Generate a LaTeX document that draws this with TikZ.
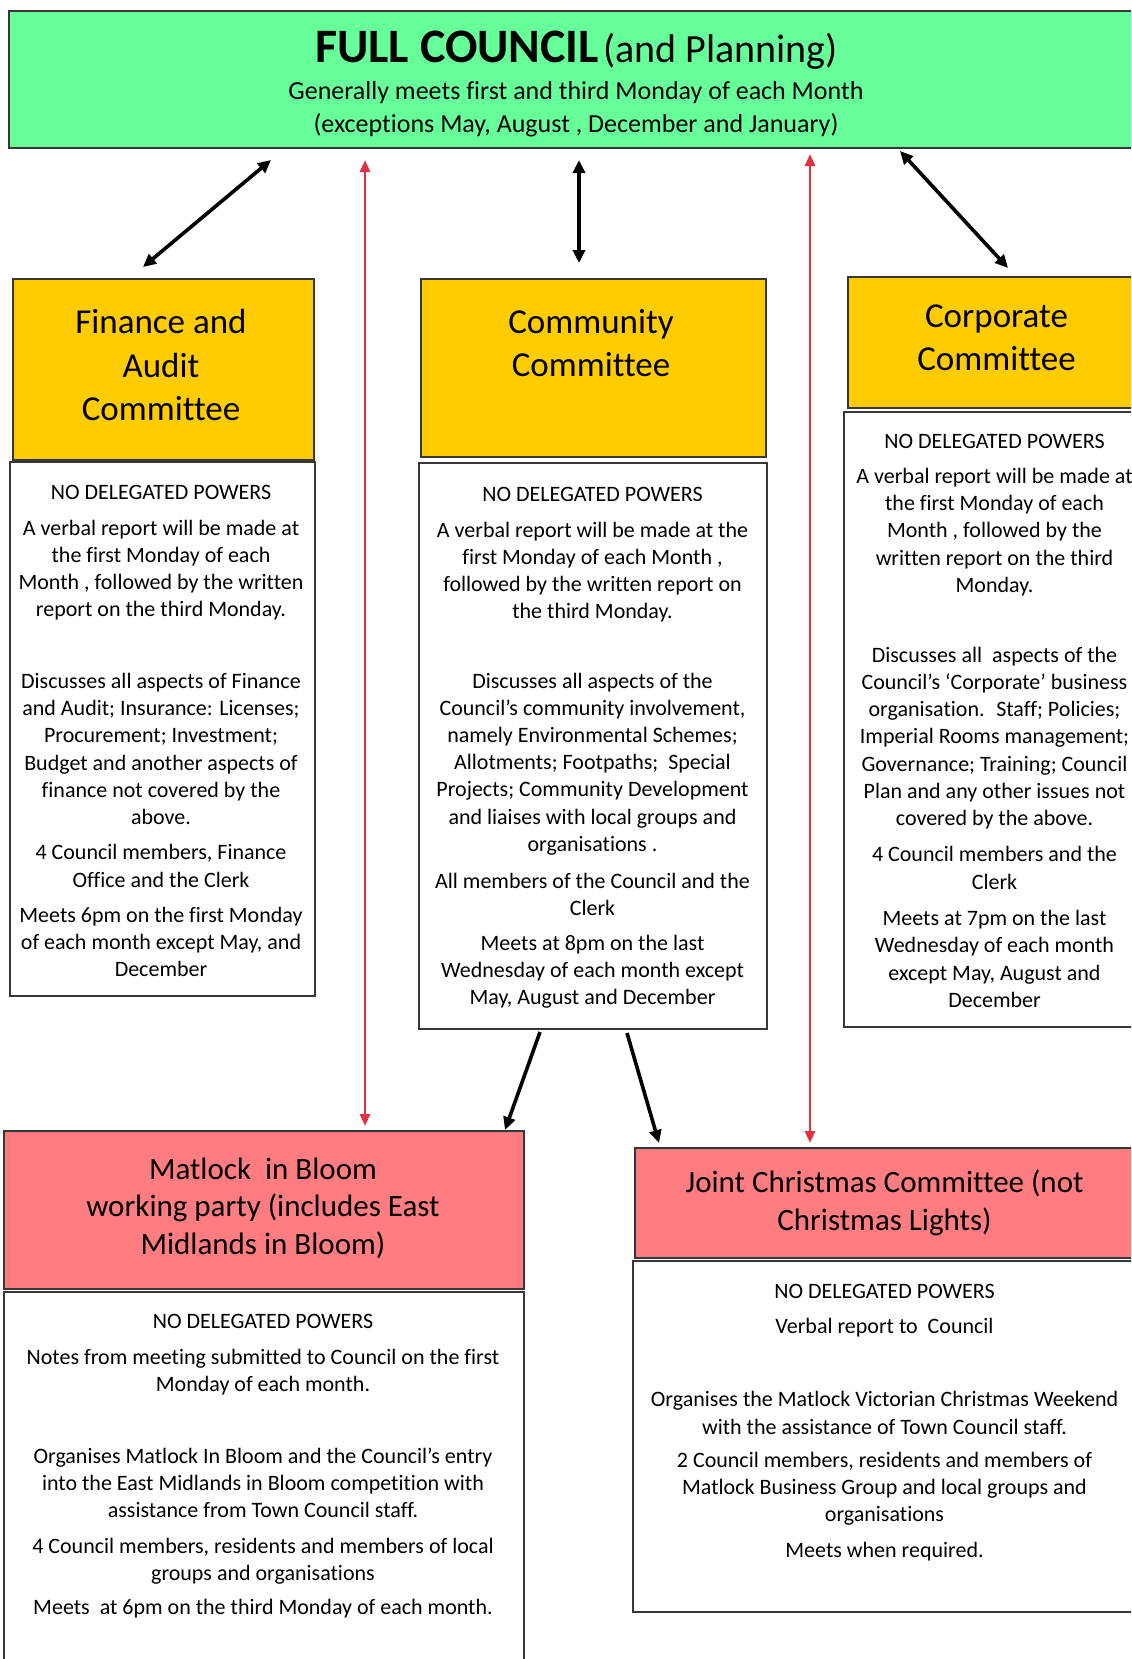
\documentclass[tikz,border=0pt]{standalone}
\usepackage{fontspec}
\setmainfont{Carlito}[Ligatures=NoCommon]
\usetikzlibrary{arrows.meta,fit}
\definecolor{cgreen}{RGB}{102,255,153}
\definecolor{cyellow}{RGB}{255,204,0}
\definecolor{cpink}{RGB}{255,124,128}
\definecolor{cred}{RGB}{226,48,66}
\definecolor{cborder}{RGB}{55,55,55}
\begin{document}
\begin{tikzpicture}[x=0.5pt,y=-0.5pt,
  box/.style={draw=cborder, line width=1pt, inner sep=0pt, outer sep=0pt, rectangle},
  body/.style={align=center, font=\fontsize{11}{13.6}\selectfont, inner sep=0pt},
  ctitle/.style={align=center, font=\fontsize{17.5}{21.7}\selectfont, inner sep=0pt},
  ptitle/.style={align=center, font=\fontsize{15.5}{18.8}\selectfont, inner sep=0pt},
  blackarrow/.style={line width=1.8pt, black, -{Triangle[length=6.5pt,width=6pt]}},
  blackboth/.style={line width=1.8pt, black, {Triangle[length=6.5pt,width=6pt]}-{Triangle[length=6.5pt,width=6pt]}},
  redboth/.style={line width=1.4pt, cred, {Triangle[length=6pt,width=5pt]}-{Triangle[length=6pt,width=5pt]}}]
\useasboundingbox (0,0) rectangle (1131,1659);
\clip (0,0) rectangle (1131,1659);
\fill[white] (0,0) rectangle (1131,1659);

% boxes
\node[box, fill=cgreen, fit={(8.5,10.6) (1145,148)}] (fc) {};
\node[box, fill=cyellow, fit={(12.7,279) (313.5,460)}] (finY) {};
\node[box, fill=white, fit={(9.5,462) (315,996)}] (finW) {};
\node[box, fill=cyellow, fit={(421,279) (766,457)}] (comY) {};
\node[box, fill=white, fit={(419,463) (767,1029)}] (comW) {};
\node[box, fill=cyellow, fit={(848,277) (1145,408)}] (corY) {};
\node[box, fill=white, fit={(844,412) (1145,1027)}] (corW) {};
\node[box, fill=cpink, fit={(4,1131) (524,1289)}] (matP) {};
\node[box, fill=white, fit={(4,1292) (524,1675)}] (matW) {};
\node[box, fill=cpink, fit={(635,1148) (1145,1258)}] (joiP) {};
\node[box, fill=white, fit={(633,1261) (1145,1612)}] (joiW) {};

% full council text
\node[inner sep=0pt] (fcA) at (576.6,50.5) {{\fontsize{24}{29}\selectfont\bfseries FULL COUNCIL} {\fontsize{20}{24}\selectfont (and Planning)}};
\node[align=center, inner sep=0pt, font=\fontsize{13}{16.4}\selectfont] (fcB) at (576,109) {Generally meets first and third Monday of each Month\\(exceptions May, August , December and January)};

% committee titles
\node[ctitle] (finT) at (161,365) {Finance and\\Audit\\Committee};
\node[ctitle] (comT) at (591,343) {Community\\Committee};
\node[ctitle] (corT) at (996.5,338) {Corporate\\Committee};

% finance body
\node[body] (fin1) at (161,492) {NO DELEGATED POWERS};
\node[body] (fin2) at (161,570) {A verbal report will be made at\\the first Monday of each\\Month , followed by the written\\report on the third Monday.};
\node[body] (fin3) at (161,749) {Discusses all aspects of Finance\\and Audit; Insurance: Licenses;\\Procurement; Investment;\\Budget and another aspects of\\finance not covered by the\\above.};
\node[body] (fin4) at (161,866) {4 Council members, Finance\\Office and the Clerk};
\node[body] (fin5) at (161,942) {Meets 6pm on the first Monday\\of each month except May, and\\December};

% community body
\node[body] (com1) at (592.5,494) {NO DELEGATED POWERS};
\node[body] (com2) at (592.5,572) {A verbal report will be made at the\\first Monday of each Month ,\\followed by the written report on\\the third Monday.};
\node[body] (com3) at (592.5,764) {Discusses all aspects of the\\Council’s community involvement,\\namely Environmental Schemes;\\Allotments; Footpaths;~ Special\\Projects; Community Development\\and liaises with local groups and\\organisations .};
\node[body] (com4) at (592.5,894.5) {All members of the Council and the\\Clerk};
\node[body] (com5) at (592.5,972) {Meets at 8pm on the last\\Wednesday of each month except\\May, August and December};

% corporate body
\node[body] (cor1) at (994.5,441) {NO DELEGATED POWERS};
\node[body] (cor2) at (994.5,532) {A verbal report will be made at\\the first Monday of each\\Month , followed by the\\written report on the third\\Monday.};
\node[body] (cor3) at (994.5,738) {Discusses all~ aspects of the\\Council’s ‘Corporate’ business\\organisation.~ Staff; Policies;\\Imperial Rooms management;\\Governance; Training; Council\\Plan and any other issues not\\covered by the above.};
\node[body] (cor4) at (994.5,868) {4 Council members and the\\Clerk};
\node[body] (cor5) at (994.5,959) {Meets at 7pm on the last\\Wednesday of each month\\except May, August and\\December};

% Matlock
\node[ptitle] (matT) at (263,1208) {Matlock~ in Bloom\\working party (includes East\\Midlands in Bloom)};
\node[body] (mat1) at (263,1321) {NO DELEGATED POWERS};
\node[body] (mat2) at (263,1372) {Notes from meeting submitted to Council on the first\\Monday of each month.};
\node[body] (mat3) at (263,1483) {Organises Matlock In Bloom and the Council’s entry\\into the East Midlands in Bloom competition with\\assistance from Town Council staff.};
\node[body] (mat4) at (263,1561) {4 Council members, residents and members of local\\groups and organisations};
\node[body] (mat5) at (263,1609) {Meets~ at 6pm on the third Monday of each month.};

% Joint
\node[ptitle] (joiT) at (884.5,1203) {Joint Christmas Committee (not\\Christmas Lights)};
\node[body] (joi1) at (884.5,1291) {NO DELEGATED POWERS};
\node[body] (joi2) at (884.5,1328) {Verbal report to~ Council};
\node[body] (joi3) at (884.5,1413) {Organises the Matlock Victorian Christmas Weekend\\with the assistance of Town Council staff.};
\node[body] (joi4) at (884.5,1489) {2 Council members, residents and members of\\Matlock Business Group and local groups and\\organisations};
\node[body] (joi5) at (884.5,1552) {Meets when required.};

% connector end points
\coordinate (a1s) at (271,160);
\coordinate (a1e) at (143,267);
\coordinate (r1s) at (365,160);
\coordinate (r1e) at (365,1126);
\coordinate (a2s) at (579,160);
\coordinate (a2e) at (579,263);
\coordinate (r2s) at (810,154);
\coordinate (r2e) at (810,1143);
\coordinate (a3s) at (900,151);
\coordinate (a3e) at (1008,268);
\coordinate (b1s) at (540,1032);
\coordinate (b1e) at (505,1130);
\coordinate (b2s) at (627,1033);
\coordinate (b2e) at (659,1143);

\draw[blackboth] (a1s) -- (a1e);
\draw[redboth] (r1s) -- (r1e);
\draw[blackboth] (a2s) -- (a2e);
\draw[redboth] (r2s) -- (r2e);
\draw[blackboth] (a3s) -- (a3e);
\draw[blackarrow] (b1s) -- (b1e);
\draw[blackarrow] (b2s) -- (b2e);
\end{tikzpicture}
\end{document}
